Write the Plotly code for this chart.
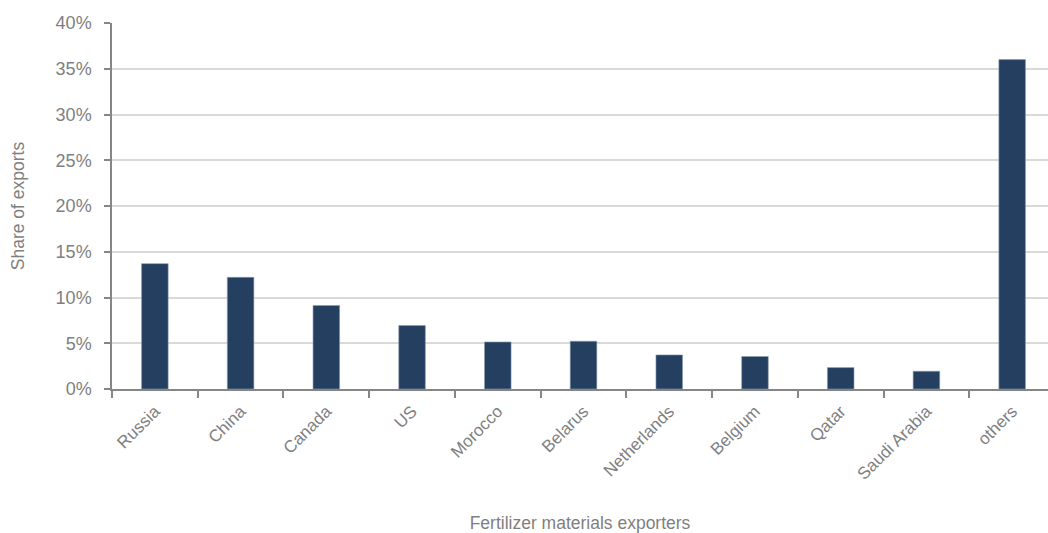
import plotly.graph_objects as go

categories = ["Russia", "China", "Canada", "US", "Morocco", "Belarus",
              "Netherlands", "Belgium", "Qatar", "Saudi Arabia", "others"]
shares = [13.7, 12.2, 9.13, 6.94, 5.14, 5.22, 3.72, 3.55, 2.34, 1.94, 36.0]
y_ticks = [0, 5, 10, 15, 20, 25, 30, 35, 40]
y_tick_labels = [f"{v}%" for v in y_ticks]

FONT = "Liberation Sans Narrow, Arial Narrow, Liberation Sans, Arial, sans-serif"
GREY = "#7f7f7f"

fig = go.Figure(go.Bar(
    x=categories, y=shares, width=0.31,
    marker=dict(color="#253f61", line=dict(color="#8c9bb0", width=0.6)),
))

fig.update_layout(
    width=1048, height=533,
    margin=dict(l=112, r=0, t=23, b=144),
    plot_bgcolor="white", paper_bgcolor="white",
    showlegend=False,
    font=dict(family=FONT, color=GREY, size=16),
)
fig.update_yaxes(
    range=[0, 40], tickvals=y_ticks, ticktext=y_tick_labels,
    showgrid=True, gridcolor="#d9d9d9", gridwidth=1.5,
    showline=True, linecolor="#868686", linewidth=1.5,
    ticks="outside", ticklen=6, tickcolor="#868686", tickwidth=1.5,
    ticklabelstandoff=9, automargin=False,
    tickfont=dict(size=18, family=FONT, color=GREY),
    title=dict(text="Share of exports", font=dict(size=17.5, family=FONT, color=GREY), standoff=26),
    zeroline=False,
)
fig.update_xaxes(
    range=[-0.5, 10.418],
    showline=True, linecolor="#868686", linewidth=1.5,
    ticks="outside", ticklen=7, tickcolor="#868686", tickwidth=1.5,
    tickson="boundaries", tickangle=-45,
    ticklabelstandoff=4, automargin=False,
    tickfont=dict(size=17, family=FONT, color=GREY),
    title=dict(text="Fertilizer materials exporters", font=dict(size=17.5, family=FONT, color=GREY), standoff=40),
)

fig.write_html("out.html")
